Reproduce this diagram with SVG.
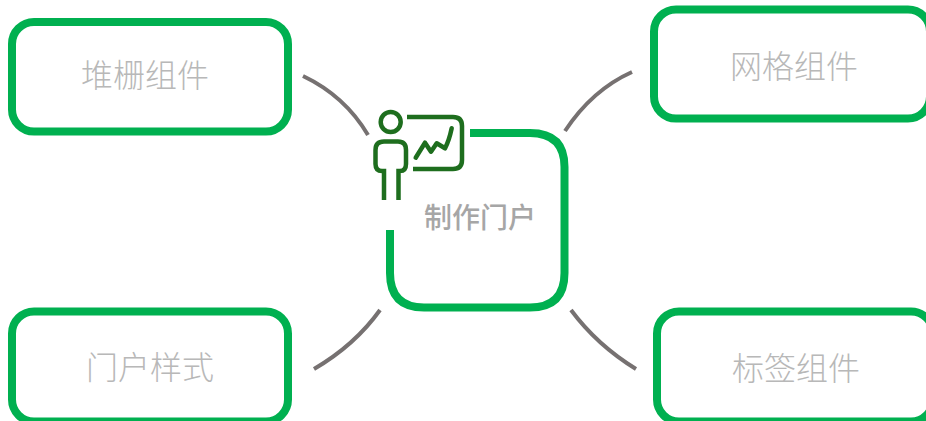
<svg xmlns="http://www.w3.org/2000/svg" width="926" height="421" viewBox="0 0 926 421">
<style>
.box{fill:none;stroke:#00b050;stroke-width:8}
.link{fill:none;stroke:#767171;stroke-width:4}
.icon{fill:none;stroke:#1e6e1e;stroke-width:4.500}
.label{font-family:"Noto Sans CJK SC","Liberation Sans",sans-serif;font-size:32px;font-weight:300;fill:#b8b8b8;text-anchor:middle}
.title{font-family:"Noto Sans CJK SC","Liberation Sans",sans-serif;font-size:28px;font-weight:500;fill:#a6a6a6;text-anchor:middle}
</style>
<rect width="926" height="421" fill="#fff"/>
<g id="connectors">
<path class="link" d="M303 76Q345 96 368 135"/>
<path class="link" d="M632 72Q592 90 565 131"/>
<path class="link" d="M380 310Q355 345 314 369"/>
<path class="link" d="M571 310Q597 345 636 369"/>
</g>
<g id="node-center">
<path class="box" d="M470 133H530Q564.500 133 564.500 167V273Q564.500 307.500 530 307.500H424Q390 307.500 390 273V230"/>
<text class="title" x="480" y="228">制作门户</text>
<g id="icon-presenter">
<circle class="icon" cx="390.700" cy="122" r="10"/>
<path class="icon" d="M384 200V171H382Q375.500 171 375.500 164V150Q375.500 141.500 384 141.500H398Q406 141.500 406 150V164Q406 171 400 171H398.500V200"/>
<path class="icon" d="M407 117H453Q462 117 462 126V160Q462 169 453 169H413"/>
<path class="icon" stroke-linecap="round" stroke-linejoin="round" d="M415.700 157.700L425 142.700L431 151.700L436.700 143.300L445 148.300Q449 141 451.700 128.300"/>
</g>
</g>
<g id="node-tl">
<rect class="box" x="12" y="22" width="276" height="109.500" rx="22"/>
<text class="label" x="145" y="87">堆栅组件</text>
</g>
<g id="node-tr">
<rect class="box" x="654" y="9.500" width="276" height="109" rx="22"/>
<text class="label" x="794" y="78">网格组件</text>
</g>
<g id="node-bl">
<rect class="box" x="12" y="311.500" width="276" height="110" rx="22"/>
<text class="label" x="150" y="379">门户样式</text>
</g>
<g id="node-br">
<rect class="box" x="657" y="311.500" width="276" height="110" rx="22"/>
<text class="label" x="796" y="380">标签组件</text>
</g>
</svg>
